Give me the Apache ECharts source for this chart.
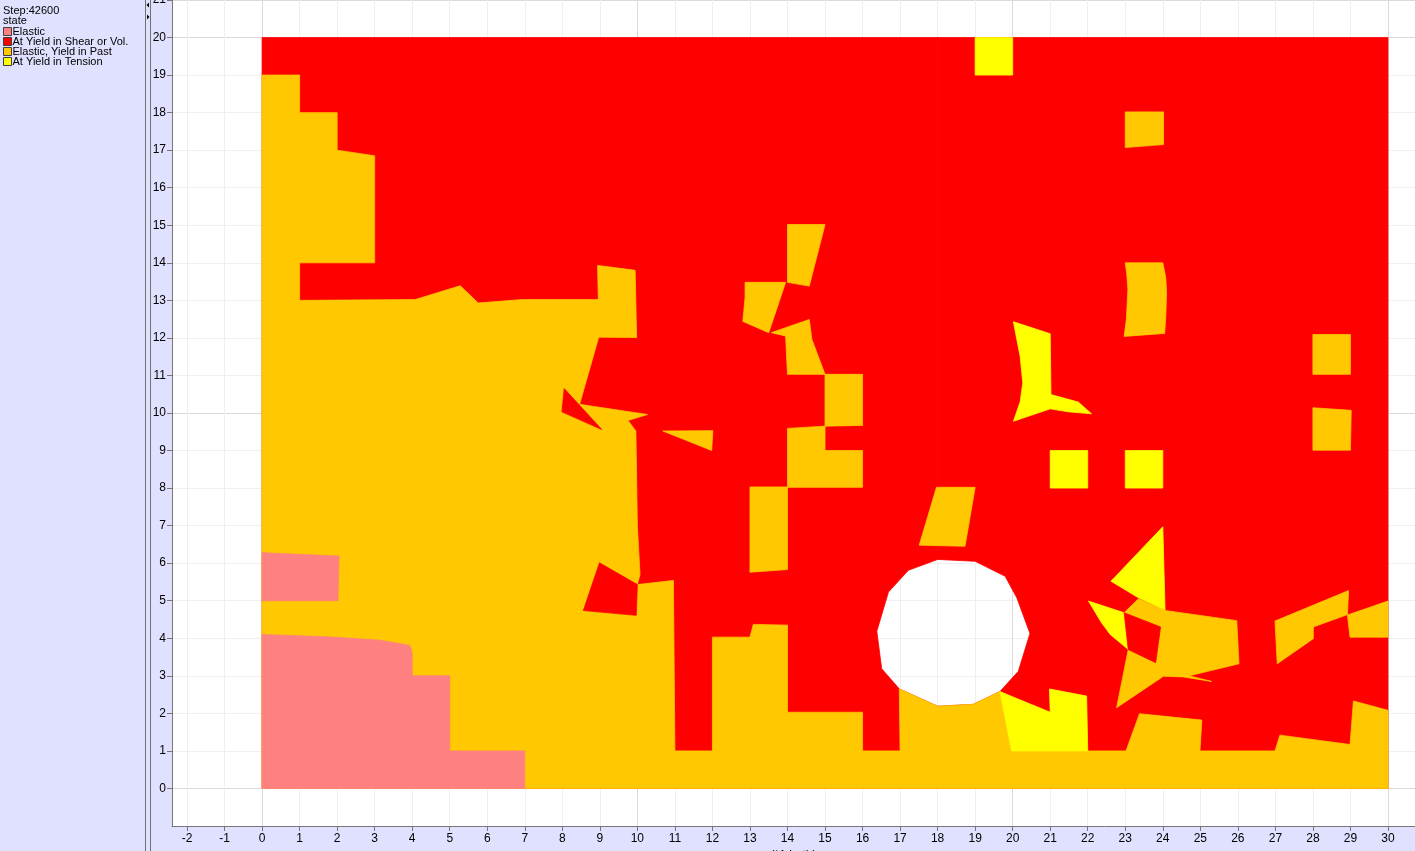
<!DOCTYPE html>
<html>
<head>
<meta charset="utf-8">
<script src="https://cdn.jsdelivr.net/npm/echarts@6/dist/echarts.min.js"></script>
<style>html,body{margin:0;padding:0;background:#E0E0FF;}#c{width:1415px;height:851px;}</style>
</head>
<body>
<div id="c"></div>
<script>
// ---- data (model coordinates, FLAC zone states) ----
const stepLabel = 'Step:42600';
const plotVariable = 'state';
const stateNames = ['Elastic', 'At Yield in Shear or Vol.', 'Elastic, Yield in Past', 'At Yield in Tension'];
const stateColors = ['#FF8080', '#FF0000', '#FFC800', '#FFFF00'];
const xTickValues = [-2,-1,0,1,2,3,4,5,6,7,8,9,10,11,12,13,14,15,16,17,18,19,20,21,22,23,24,25,26,27,28,29,30];
const yTickValues = [0,1,2,3,4,5,6,7,8,9,10,11,12,13,14,15,16,17,18,19,20,21];

// At Yield in Shear or Vol. (base region split around the tunnel hole)
const shearBase = [
  [[0,0],[18,0],[18,2.19],[16.98,2.65],[16.51,3.19],[16.38,4.19],[16.69,5.23],[17.22,5.81],[18,6.1],[18,20],[0,20]],
  [[18,0],[30,0],[30,20],[18,20],[18,6.1],[19,6.05],[19.8,5.65],[20.11,5.08],[20.46,4.13],[20.15,3.12],[19.66,2.58],[18.95,2.24],[18,2.19]]
];
// Elastic, Yield in Past
const pastYield = [
  [[0,19],[1,19],[1,18],[2,18],[2,17],[3,16.85],[3,14],[1,14],[1,13],[4.08,13.02],[5.28,13.39],[5.76,12.93],[6.92,13.02],[8.96,13.02],[8.94,13.93],[9.94,13.8],[9.98,12.01],[8.97,12.02],[8.46,10.23],[10.27,9.96],[9.75,9.8],[9.96,9.52],[10,7],[10.07,5.7],[10,5.43],[10.96,5.54],[11,1],[30,1],[30,0],[0,0]],
  [[12,1],[12,4.03],[13,4.03],[13.09,4.37],[14,4.35],[14,2.03],[16,2.03],[16,1]],
  [[17,1],[16.98,2.65],[18,2.19],[18.95,2.24],[19.66,2.58],[19.97,1]],
  [[13,5.76],[13,8.03],[14,8.03],[14,5.83]],
  [[14,8.02],[14,9.59],[15,9.65],[15,9],[16,9],[16,8.02]],
  [[15,9.65],[15,11.03],[16,11.03],[16,9.67]],
  [[13.57,12.14],[14.58,12.49],[14.65,11.96],[15,11.03],[14,11.03],[13.95,12.05]],
  [[12.87,13.48],[13.95,13.48],[13.5,12.14],[12.81,12.44],[12.87,13.07]],
  [[14,13.48],[14,15.02],[15,15.02],[14.58,13.38]],
  [[10.68,9.52],[12.01,9.53],[11.98,9]],
  [[17.51,6.48],[17.97,8.02],[19,8.02],[18.73,6.45]],
  [[23,17.07],[23,18.02],[24.02,18.02],[24.02,17.15]],
  [[23,14],[24,14],[24.08,13.6],[24.1,13.2],[24.08,12.6],[24.05,12.12],[22.97,12.04],[23.03,12.5],[23.07,13.3],[23.04,13.7]],
  [[28,11.03],[28,12.09],[29,12.09],[29,11.03]],
  [[28,9.01],[28,10.14],[29.02,10.07],[29,9.01]],
  [[22.77,2.15],[23.08,3.7],[22.97,4.68],[23.35,5.05],[24.06,4.74],[25.97,4.47],[26.03,3.32],[24.7,3.0],[25.3,2.85],[24.55,2.97],[24.02,2.99]],
  [[26.99,4.46],[28.95,5.27],[28.92,4.63],[28.01,4.3],[28.01,3.99],[27.05,3.32]],
  [[28.92,4.62],[30,4.99],[30,4.03],[28.99,4.03]],
  [[23.02,1],[23.38,1.99],[25.04,1.82],[24.99,1]],
  [[26.99,1],[27.12,1.42],[28.99,1.17],[29.08,2.33],[30,2.08],[30,1]]
];
// Elastic
const elastic = [
  [[0,5],[0,6.28],[0.64,6.25],[2.05,6.19],[2.02,5]],
  [[0,0],[0,4.1],[1.72,4.04],[3.14,3.95],[3.94,3.81],[4,3.6],[4,3],[5,3],[5,1],[7,1],[7,0]]
];
// At Yield in Tension
const tension = [
  [[19,19],[19,20],[20,20],[20,19]],
  [[20.02,12.43],[21,12.11],[21.02,10.49],[21.75,10.29],[22.1,9.98],[21.49,10.03],[21,10.11],[20.02,9.78],[20.2,10.3],[20.27,10.8],[20.2,11.5]],
  [[21,8],[21,9],[22,9],[22,8]],
  [[23,8],[23,9],[24,9],[24,8]],
  [[22.62,5.52],[24,6.97],[24.06,4.75],[23.35,5.08]],
  [[22.02,4.99],[22.97,4.68],[23.08,3.7],[22.6,4.1],[22.37,4.41]],
  [[19.66,2.58],[21,2.03],[20.98,2.65],[21.97,2.46],[22,1],[19.97,1]]
];
// At Yield in Shear or Vol. — zones lying inside other regions
const shearPatches = [
  [[8.05,10.65],[9.05,9.56],[7.99,10.03]],
  [[8.99,6.01],[10,5.43],[9.97,4.61],[8.56,4.74]],
  [[22.97,4.68],[23.94,4.3],[23.81,3.35],[23.08,3.7]]
];

const xRange = [-2.4, 30.72];
const yRange = [-1, 21];
const xAxisName = '(*1 both)';

// ---- chart ----
function polySeries(name, polys, color) {
  return {
    type: 'custom', name: name, silent: true,
    xAxisIndex: 0, yAxisIndex: 0,
    itemStyle: { color: color },
    data: polys.map(p => [p[0][0], p[0][1]]),
    renderItem: function (params, api) {
      const pts = polys[params.dataIndex].map(pt => api.coord(pt));
      return { type: 'polygon', shape: { points: pts },
        style: { fill: color, stroke: color, lineWidth: 0.8 } };
    }
  };
}

const axisFont = 'Liberation Sans, Arial, sans-serif';
const isInt = v => Math.abs(v - Math.round(v)) < 1e-6;

const chart = echarts.init(document.getElementById('c'), null, { renderer: 'canvas' });
chart.setOption({
  animation: false,
  backgroundColor: '#E0E0FF',
  grid: { left: 172, right: 0, top: 0, bottom: 25, show: true, backgroundColor: '#FFFFFF', borderWidth: 0,
    containLabel: false, outerBoundsMode: 'none' },
  legend: {
    data: stateNames, orient: 'vertical', left: 3, top: 26, padding: 0,
    itemWidth: 8, itemHeight: 8, itemGap: -1, icon: 'rect', selectedMode: false,
    itemStyle: { borderColor: '#404040', borderWidth: 1 },
    textStyle: { fontFamily: axisFont, fontSize: 11, lineHeight: 9, color: '#000', padding: [0, 0, 0, -4] }
  },
  xAxis: [{
    type: 'value', min: xRange[0], max: xRange[1], splitNumber: 33,
    name: xAxisName, nameLocation: 'middle', nameGap: 19,
    nameTextStyle: { fontFamily: axisFont, fontSize: 12, color: '#000' },
    axisLine: { onZero: false, lineStyle: { color: '#777777' } },
    axisTick: { length: 5, customValues: xTickValues, lineStyle: { color: '#777777' } },
    axisLabel: { margin: 7, fontFamily: axisFont, fontSize: 12, color: '#000', customValues: xTickValues,
      formatter: v => isInt(v) ? String(Math.round(v)) : '' },
    splitLine: { show: true, lineStyle: { color: '#efefef', width: 1 } }
  }, {
    type: 'value', min: xRange[0], max: xRange[1], splitNumber: 3, position: 'top',
    axisLine: { show: false }, axisTick: { show: false }, axisLabel: { show: false },
    splitLine: { show: true, lineStyle: { color: '#dadada', width: 1 } }
  }],
  yAxis: [{
    type: 'value', min: yRange[0], max: yRange[1], interval: 1,
    axisLine: { onZero: false, lineStyle: { color: '#777777' } },
    axisTick: { length: 5, customValues: yTickValues, lineStyle: { color: '#777777' } },
    axisLabel: { margin: 6, fontFamily: axisFont, fontSize: 12, color: '#000', customValues: yTickValues,
      formatter: v => (isInt(v) && v >= 0) ? String(Math.round(v)) : '' },
    splitLine: { show: true, lineStyle: { color: '#efefef', width: 1 } }
  }, {
    type: 'value', min: yRange[0], max: yRange[1], splitNumber: 2, position: 'right',
    axisLine: { show: false }, axisTick: { show: false }, axisLabel: { show: false },
    splitLine: { show: true, lineStyle: { color: '#dadada', width: 1 } }
  }],
  graphic: [
    { type: 'rect', shape: { x: 145, y: 0, width: 1, height: 851 }, style: { fill: '#707070' }, z: 10 },
    { type: 'rect', shape: { x: 150, y: 0, width: 1, height: 851 }, style: { fill: '#707070' }, z: 10 },
    { type: 'polygon', shape: { points: [[146.5, 5], [149, 2.5], [149, 7.5]] }, style: { fill: '#000' }, z: 10 },
    { type: 'polygon', shape: { points: [[149.5, 17], [147, 14.5], [147, 19.5]] }, style: { fill: '#000' }, z: 10 },
    { type: 'text', x: 3, y: 11, style: { text: stepLabel, fontFamily: axisFont, fontSize: 11, fill: '#000', verticalAlign: 'middle' }, z: 10 },
    { type: 'text', x: 3, y: 21, style: { text: plotVariable, fontFamily: axisFont, fontSize: 11, fill: '#000', verticalAlign: 'middle' }, z: 10 }
  ],
  series: [
    polySeries(stateNames[1], shearBase, stateColors[1]),
    polySeries(stateNames[2], pastYield, stateColors[2]),
    polySeries(stateNames[0], elastic, stateColors[0]),
    polySeries(stateNames[3], tension, stateColors[3]),
    polySeries(stateNames[1], shearPatches, stateColors[1])
  ]
});
</script>
</body>
</html>
